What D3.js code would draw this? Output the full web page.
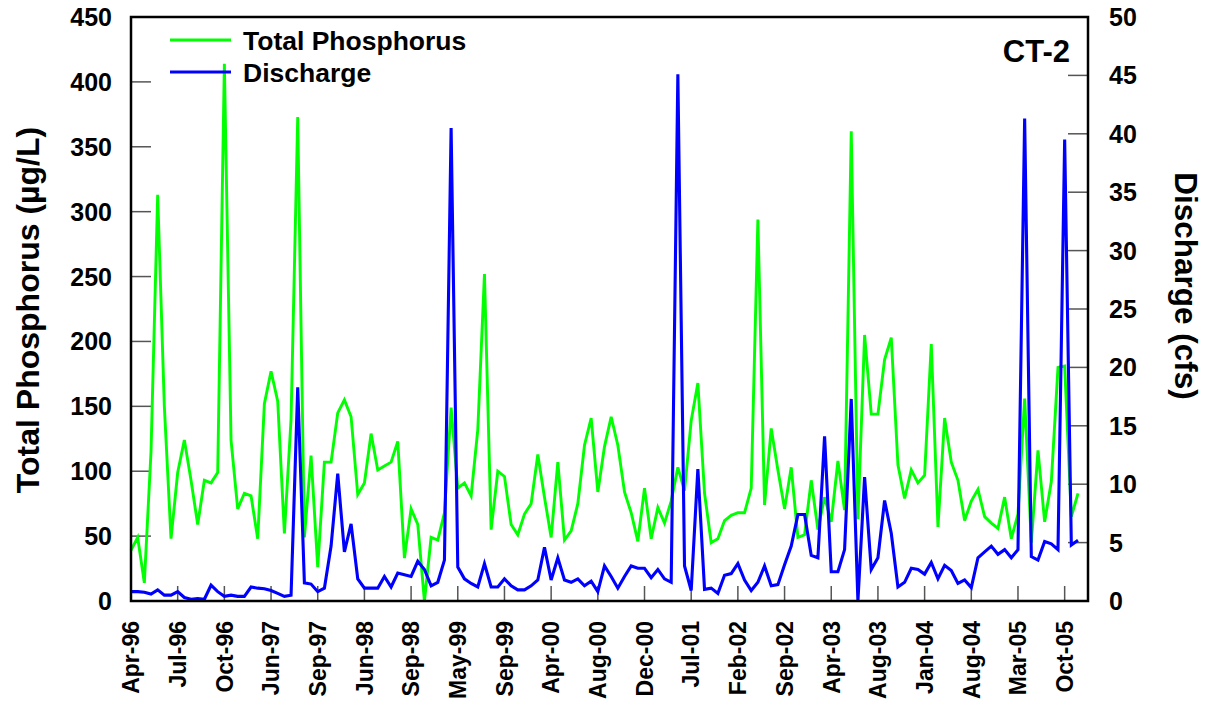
<!DOCTYPE html>
<html>
<head>
<meta charset="utf-8">
<script src="https://cdn.jsdelivr.net/npm/d3@7"></script>
<style>
  body { margin: 0; background: #fff; }
  svg text { font-family: "Liberation Sans", Arial, sans-serif; font-weight: bold; fill: #000; }
</style>
</head>
<body>
<svg id="chart" width="1206" height="702"></svg>
<script>
// sample-date labels, one every 7 samples
var tickLabels = ["Apr-96","Jul-96","Oct-96","Jun-97","Sep-97","Jun-98","Sep-98","May-99","Sep-99","Apr-00",
  "Aug-00","Dec-00","Jul-01","Feb-02","Sep-02","Apr-03","Aug-03","Jan-04","Aug-04","Mar-05","Oct-05"];
var labelEvery = 7;

// Total Phosphorus (ug/L), one value per sample
var phosphorus = [39,49,14,115,313,150,48,99,124,93,59,93,91,99,414,124,71,83,81,48,
  152,177,154,52,140,373,49,112,26,107,107,145,155,142,82,91,129,101,104,107,
  123,33,71,59,0,49,47,68,149,87,91,81,132,252,55,100,96,59,51,67,
  75,113,80,49,107,47,54,75,120,141,84,119,142,120,84,68,46,87,48,72,
  60,77,103,85,139,168,83,45,48,62,66,68,68,87,294,74,133,101,71,103,
  49,51,93,55,80,61,108,70,362,63,205,144,144,186,203,105,79,101,91,97,
  198,57,141,107,93,62,77,86,65,60,56,80,48,67,156,45,116,61,92,180,
  181,65,83];

// Discharge (cfs), one value per sample
var discharge = [0.8,0.8,0.75,0.6,0.95,0.5,0.5,0.8,0.3,0.15,0.2,0.15,1.35,0.8,0.4,0.5,0.4,0.4,1.2,1.1,
  1.05,0.9,0.65,0.4,0.5,18.3,1.55,1.45,0.8,1.1,4.7,10.9,4.2,6.6,1.9,1.1,1.1,1.1,2.1,1.2,
  2.4,2.25,2.1,3.4,2.7,1.3,1.6,3.5,40.5,2.9,1.9,1.5,1.2,3.2,1.2,1.2,1.9,1.3,0.95,0.95,
  1.3,1.8,4.6,1.8,3.7,1.8,1.6,1.9,1.3,1.7,0.8,3.0,2.1,1.1,2.1,3.0,2.8,2.8,2.0,2.7,
  1.9,1.6,45.1,3.0,0.9,11.3,1.0,1.1,0.65,2.2,2.35,3.2,1.8,0.9,1.6,3.0,1.3,1.4,3.1,4.7,
  7.4,7.4,3.9,3.7,14.1,2.5,2.5,4.4,17.3,0,10.6,2.7,3.7,8.6,5.8,1.2,1.6,2.8,2.7,2.3,
  3.3,1.9,3.05,2.6,1.5,1.8,1.15,3.7,4.2,4.7,4.0,4.4,3.7,4.4,41.3,3.8,3.5,5.1,4.9,4.4,
  39.5,4.8,5.2];

var leftTicks = [0,50,100,150,200,250,300,350,400,450];
var rightTicks = [0,5,10,15,20,25,30,35,40,45,50];

var svg = d3.select("#chart");
var plot = {left: 131, right: 1088, top: 17, bottom: 601};

var x = d3.scaleLinear().domain([0, 143.5]).range([plot.left, plot.right]);
var yL = d3.scaleLinear().domain([0, 450]).range([plot.bottom, plot.top]);
var yR = d3.scaleLinear().domain([0, 50]).range([plot.bottom, plot.top]);

// inner tick marks
var tickG = svg.append("g").attr("stroke", "#555").attr("stroke-width", 1.5);
leftTicks.slice(1, -1).forEach(function (v) {
  tickG.append("line").attr("x1", plot.left).attr("x2", plot.left + 20)
    .attr("y1", yL(v)).attr("y2", yL(v));
});
rightTicks.slice(1, -1).forEach(function (v) {
  tickG.append("line").attr("x1", plot.right - 20).attr("x2", plot.right)
    .attr("y1", yR(v)).attr("y2", yR(v));
});
tickLabels.forEach(function (t, i) {
  var xx = x(i * labelEvery);
  tickG.append("line").attr("x1", xx).attr("x2", xx)
    .attr("y1", plot.bottom - 15).attr("y2", plot.bottom);
});

// lines
var lineTP = d3.line().x(function (d, i) { return x(i); }).y(function (d) { return yL(d); });
var lineQ = d3.line().x(function (d, i) { return x(i); }).y(function (d) { return yR(d); });

svg.append("path").datum(phosphorus)
  .attr("fill", "none").attr("stroke", "#00ff00").attr("stroke-width", 2.9)
  .attr("stroke-linejoin", "miter").attr("d", lineTP);
svg.append("path").datum(discharge)
  .attr("fill", "none").attr("stroke", "#0000ff").attr("stroke-width", 3.1)
  .attr("stroke-linejoin", "miter").attr("d", lineQ);

// frame
svg.append("rect")
  .attr("x", plot.left).attr("y", plot.top)
  .attr("width", plot.right - plot.left).attr("height", plot.bottom - plot.top)
  .attr("fill", "none").attr("stroke", "#000").attr("stroke-width", 2.5);

// tick labels
svg.append("g").selectAll("text").data(leftTicks).join("text")
  .attr("x", 112).attr("y", function (d) { return yL(d); })
  .attr("dy", "0.36em").attr("text-anchor", "end")
  .style("font-size", "25px").text(function (d) { return d; });

svg.append("g").selectAll("text").data(rightTicks).join("text")
  .attr("x", 1109).attr("y", function (d) { return yR(d); })
  .attr("dy", "0.36em").attr("text-anchor", "start")
  .style("font-size", "25px").text(function (d) { return d; });

svg.append("g").selectAll("text").data(tickLabels).join("text")
  .attr("transform", function (d, i) { return "translate(" + x(i * labelEvery) + ",621) rotate(-90)"; })
  .attr("dy", "0.36em").attr("text-anchor", "end")
  .style("font-size", "23px").text(function (d) { return d; });

// axis titles
svg.append("text")
  .attr("transform", "translate(39,310) rotate(-90)")
  .attr("text-anchor", "middle").style("font-size", "32px")
  .text("Total Phosphorus (µg/L)");
svg.append("text")
  .attr("transform", "translate(1175,286) rotate(90)")
  .attr("text-anchor", "middle").style("font-size", "31.5px")
  .text("Discharge (cfs)");

// legend
var legend = [["Total Phosphorus", "#00ff00", 40], ["Discharge", "#0000ff", 72]];
legend.forEach(function (l) {
  svg.append("line").attr("x1", 170).attr("x2", 231).attr("y1", l[2]).attr("y2", l[2])
    .attr("stroke", l[1]).attr("stroke-width", 3);
  svg.append("text").attr("x", 243).attr("y", l[2] + 9.5)
    .style("font-size", "26.5px").text(l[0]);
});

svg.append("text").attr("x", 1070).attr("y", 62).attr("text-anchor", "end")
  .style("font-size", "31px").text("CT-2");
</script>
</body>
</html>
